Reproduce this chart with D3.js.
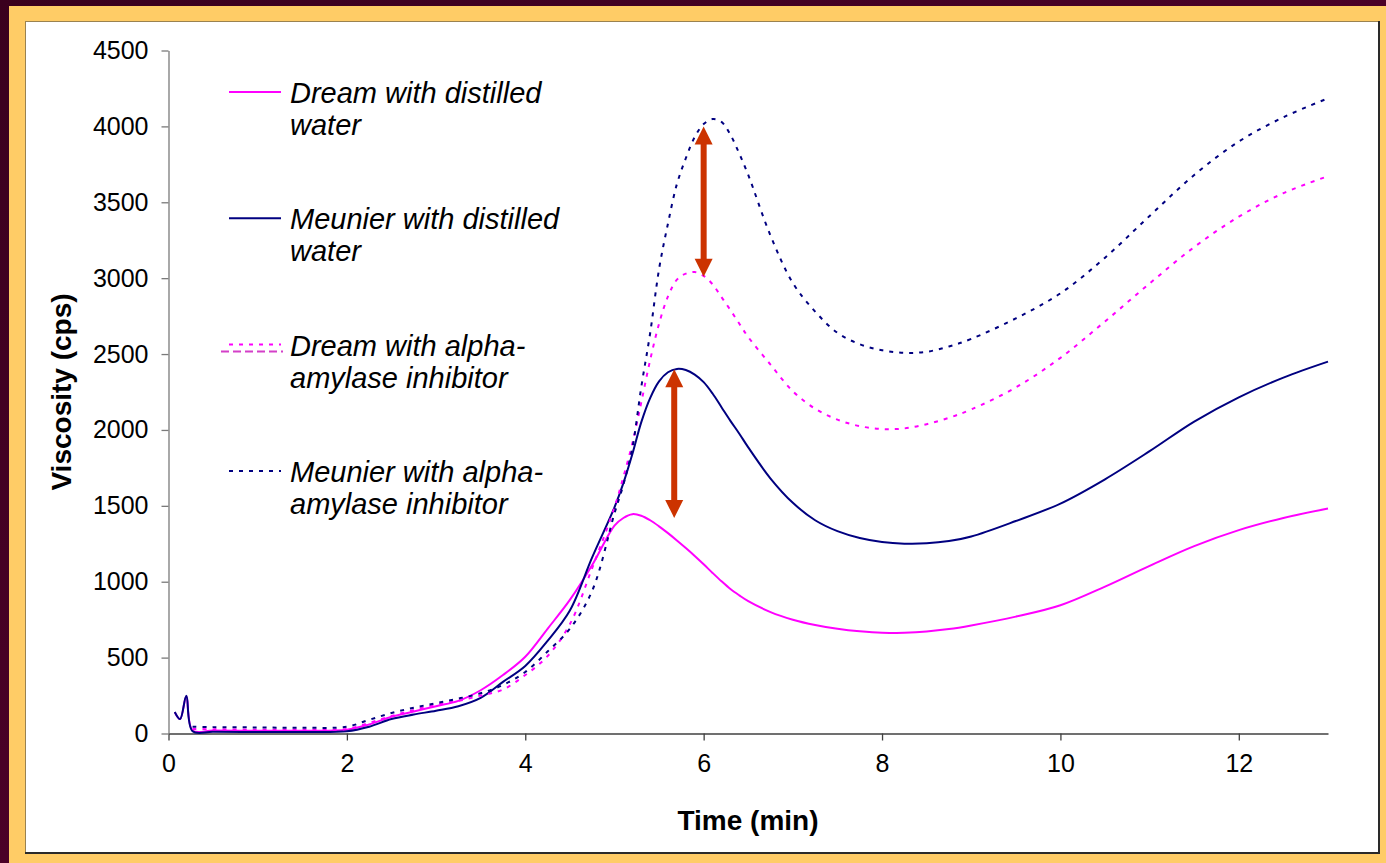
<!DOCTYPE html>
<html>
<head>
<meta charset="utf-8">
<script src="https://cdn.jsdelivr.net/npm/d3@7"></script>
<style>
  html, body { margin: 0; padding: 0; background: #4a0026; }
  svg { display: block; }
  text { font-family: Arial, "Liberation Sans", sans-serif; }
</style>
</head>
<body>
<svg id="chart" width="1386" height="863"></svg>
<script>
// Sample times (min) shared by all four viscosity traces
const time = [0.07, 0.13, 0.2, 0.27, 0.5, 1, 1.5, 2, 2.25, 2.5, 2.75, 3, 3.25, 3.5, 3.75,
  4, 4.25, 4.5, 4.75, 5, 5.1, 5.2, 5.3, 5.4, 5.5, 5.6, 5.7, 5.8, 5.9, 6, 6.1, 6.2, 6.3,
  6.4, 6.5, 6.75, 7, 7.25, 7.5, 7.75, 8, 8.25, 8.5, 8.75, 9, 9.5, 10, 10.5, 11, 11.5,
  12, 12.5, 13];

// Viscosity (cps)
const dreamWater = [140, 95, 245, 20, 20, 18, 18, 25, 60, 110, 145, 180, 215, 285, 385,
  506, 690, 880, 1110, 1370, 1420, 1445, 1435, 1405, 1365, 1320, 1272, 1222, 1170, 1115,
  1058, 1003, 952, 910, 872, 800, 750, 715, 690, 673, 663, 664, 672, 688, 712, 770, 845,
  968, 1105, 1235, 1340, 1420, 1482];

const meunierWater = [142, 95, 249, 15, 12, 10, 10, 15, 45, 95, 125, 150, 180, 235, 340,
  445, 610, 810, 1160, 1490, 1650, 1840, 2050, 2210, 2320, 2380, 2402, 2395, 2365, 2315,
  2240, 2150, 2060, 1975, 1885, 1680, 1520, 1405, 1333, 1288, 1262, 1251, 1253, 1268,
  1298, 1400, 1515, 1675, 1860, 2055, 2215, 2345, 2450];

const dreamInhibitor = [null, null, null, 30, 28, 25, 25, 30, 70, 115, 155, 190, 215, 250,
  290, 385, 510, 720, 1090, 1490, 1690, 1910, 2180, 2460, 2700, 2880, 2990, 3030, 3040,
  3015, 2960, 2875, 2790, 2700, 2612, 2430, 2255, 2140, 2068, 2025, 2006, 2010, 2038,
  2080, 2135, 2280, 2475, 2715, 2965, 3205, 3405, 3560, 3672];

const meunierInhibitor = [null, null, null, 45, 42, 40, 38, 45, 90, 135, 170, 200, 230,
  265, 320, 405, 540, 690, 940, 1450, 1640, 1880, 2280, 2637, 3060, 3360, 3620, 3790,
  3930, 4015, 4048, 4030, 3945, 3820, 3680, 3280, 2968, 2780, 2640, 2565, 2525, 2508,
  2515, 2550, 2600, 2735, 2900, 3135, 3410, 3680, 3900, 4060, 4185];

// Axis ticks
const xTicks = [0, 2, 4, 6, 8, 10, 12];
const yTicks = [0, 500, 1000, 1500, 2000, 2500, 3000, 3500, 4000, 4500];

// Peak differences marked with double-headed arrows: [time, from, to]
const arrowDream = [6.0, 4000, 3010];
const arrowMeunier = [5.67, 2400, 1420];

const series = [
  { label: ["Dream with distilled", "water"], values: dreamWater, color: "#FF00FF", dash: null },
  { label: ["Meunier with distilled", "water"], values: meunierWater, color: "#000080", dash: null },
  { label: ["Dream with alpha-", "amylase inhibitor"], values: dreamInhibitor, color: "#FF00FF", dash: "4,6" },
  { label: ["Meunier with alpha-", "amylase inhibitor"], values: meunierInhibitor, color: "#000080", dash: "4,6" }
];

const W = 1386, H = 863;
const svg = d3.select("#chart");

// Slide background, gold frame and white plot panel
const defs = svg.append("defs");
const grad = defs.append("linearGradient").attr("id", "bg")
  .attr("x1", "0").attr("y1", "0").attr("x2", "1").attr("y2", "1");
grad.append("stop").attr("offset", "0").attr("stop-color", "#3a001e");
grad.append("stop").attr("offset", "1").attr("stop-color", "#5c0030");
svg.append("rect").attr("width", W).attr("height", H).attr("fill", "url(#bg)");
svg.append("rect").attr("x", 9).attr("y", 6).attr("width", W - 9).attr("height", H - 6)
  .attr("fill", "#FFCC66");
svg.append("rect").attr("x", 25.5).attr("y", 21.5).attr("width", 1353).attr("height", 831)
  .attr("fill", "#ffffff").attr("stroke", "#9a8250").attr("stroke-width", 1);
svg.append("path").attr("d", "M1379,21 V853 H25")
  .attr("fill", "none").attr("stroke", "#2a2a2a").attr("stroke-width", 2);

// Scales
const x = d3.scaleLinear().domain([0, 13]).range([168.5, 1328]);
const y = d3.scaleLinear().domain([0, 4500]).range([733.5, 50.5]);

const tickFont = "Arial, 'Liberation Sans', sans-serif";

// Axes
const xAxis = svg.append("g").attr("transform", `translate(0,${y(0)})`)
  .call(d3.axisBottom(x).tickValues(xTicks).tickFormat(d3.format("d"))
    .tickSize(7).tickPadding(14).tickSizeOuter(0));
xAxis.select(".domain").attr("stroke", "#404040").attr("stroke-width", 1.3);
xAxis.selectAll(".tick line").attr("stroke", "#404040").attr("stroke-width", 1.3);
xAxis.selectAll(".tick text").attr("font-size", 25).attr("fill", "#000")
  .attr("font-family", tickFont);

const yAxis = svg.append("g").attr("transform", `translate(${x(0)},0)`)
  .call(d3.axisLeft(y).tickValues(yTicks).tickFormat(d3.format("d"))
    .tickSize(7).tickPadding(13).tickSizeOuter(0));
yAxis.select(".domain").attr("stroke", "#7a7a7a").attr("stroke-width", 1.3);
yAxis.selectAll(".tick line").attr("stroke", "#7a7a7a").attr("stroke-width", 1.3);
yAxis.selectAll(".tick text").attr("font-size", 25).attr("fill", "#000")
  .attr("font-family", tickFont);

// Axis titles
svg.append("text").attr("x", 748).attr("y", 830).attr("text-anchor", "middle")
  .attr("font-size", 28).attr("font-weight", "bold").text("Time (min)");
svg.append("text").attr("transform", `translate(71,${(y(0) + y(4500)) / 2}) rotate(-90)`)
  .attr("text-anchor", "middle").attr("font-size", 28).attr("font-weight", "bold")
  .text("Viscosity (cps)");

// Traces
const line = d3.line()
  .defined(d => d[1] != null)
  .x(d => x(d[0])).y(d => y(d[1]))
  .curve(d3.curveCatmullRom.alpha(0.5));

series.forEach(s => {
  svg.append("path")
    .datum(time.map((t, i) => [t, s.values[i]]))
    .attr("fill", "none")
    .attr("stroke", s.color)
    .attr("stroke-width", 2)
    .attr("stroke-dasharray", s.dash)
    .attr("d", line);
});

// Double-headed arrows
function arrow(a) {
  const ax = x(a[0]), y1 = y(a[1]), y2 = y(a[2]);
  const hl = 18, hw = 9, sw = 3;
  const g = svg.append("g").attr("fill", "#CC3300");
  g.append("rect").attr("x", ax - sw).attr("y", y1 + hl - 1).attr("width", sw * 2)
    .attr("height", (y2 - y1) - 2 * hl + 2);
  g.append("path").attr("d", `M${ax},${y1} L${ax + hw},${y1 + hl} L${ax - hw},${y1 + hl} Z`);
  g.append("path").attr("d", `M${ax},${y2} L${ax + hw},${y2 - hl} L${ax - hw},${y2 - hl} Z`);
}
arrow(arrowDream);
arrow(arrowMeunier);

// Legend
const legend = svg.append("g");
series.forEach((s, i) => {
  const base = 103 + i * 126.3;
  const ly = base - 11;
  legend.append("line").attr("x1", 229).attr("x2", 281).attr("y1", ly).attr("y2", ly)
    .attr("stroke", s.color).attr("stroke-width", 2).attr("stroke-dasharray", s.dash);
  s.label.forEach((t, j) => {
    legend.append("text").attr("x", 290).attr("y", base + j * 32)
      .attr("font-size", 29).attr("font-style", "italic").attr("fill", "#000").text(t);
  });
});
// second stroke sample under the Dream inhibitor key
legend.append("line").attr("x1", 221).attr("x2", 283).attr("y1", 103 + 2 * 126.3 - 4)
  .attr("y2", 103 + 2 * 126.3 - 4)
  .attr("stroke", "#d43fc8").attr("stroke-width", 2).attr("stroke-dasharray", "8,4");
</script>
</body>
</html>
